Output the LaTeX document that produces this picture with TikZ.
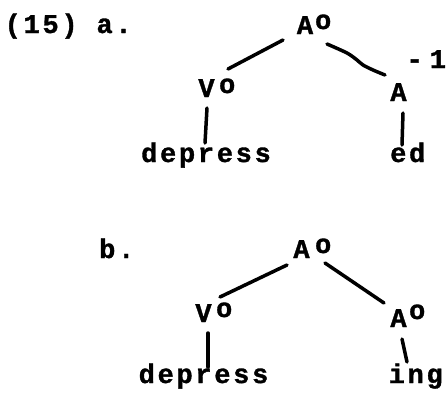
\documentclass[tikz,border=0pt]{standalone}
\usepackage{fontspec}
\usetikzlibrary{calc}
\newfontfamily\twfont{Liberation Mono Bold}[FakeBold=1.2]
\newfontfamily\twspaced{Liberation Mono Bold}[FakeBold=1.2,LetterSpace=10]
\newcommand\supo[2]{\smash{\rlap{\hspace{#1}\raisebox{#2}{o}}}}
\newcommand\supminus[2]{\smash{\rlap{\raisebox{#1}{-\hspace{#2}1}}}}
\tikzset{
  lbl/.style={inner sep=0pt, anchor=base, font=\twfont\fontsize{27}{30}\selectfont},
  word/.style={inner sep=0pt, anchor=base west, font=\twspaced\fontsize{27}{30}\selectfont},
  branch/.style={line width=3.5pt, line cap=round, black}
}
\begin{document}
\begin{tikzpicture}[x=1pt,y=1pt]
\useasboundingbox (0,0) rectangle (447,-392);
% labels
\node[word] (lab15) at (4.5,-33) {(15) a.};
\node[word] (labb) at (99,-258) {b.};
% tree a
\node[lbl] (aA) at (305,-34) {A\supo{2pt}{5pt}};
\node[lbl] (aV) at (206.5,-97) {V\supo{4.5pt}{4pt}};
\node[lbl] (aA2) at (398.5,-101) {A\supminus{33pt}{7pt}};
\node[word] (adep) at (141,-162) {depress};
\node[word] (aed) at (390,-162) {ed};
% tree b
\node[lbl] (bA) at (301.5,-258) {A\supo{5.5pt}{5pt}};
\node[lbl] (bV) at (203.5,-322) {V\supo{4.5pt}{5pt}};
\node[lbl] (bA2) at (398.5,-327) {A\supo{2.5pt}{8pt}};
\node[word] (bdep) at (138.5,-383) {depress};
\node[word] (bing) at (388.5,-383) {ing};
% branches a
\draw[branch] ($(aA.base)+(-22,-6)$) -- ($(aV.base)+(21.5,28)$);
\draw[branch] plot[smooth] coordinates {($(aA.base)+(22,-10)$) ($(aA.base)+(42,-19)$) ($(aA.base)+(52,-26)$) ($(aA.base)+(58,-31)$) ($(aA.base)+(68,-36)$) ($(aA2.base)+(-13.5,26)$)};
\draw[branch] ($(aV.base)+(0.5,-11)$) -- ($(adep.base west)+(64,19)$);
\draw[branch] ($(aA2.base)+(4.5,-12)$) -- ($(aed.base west)+(12,17)$);
% branches b
\draw[branch] ($(bA.base)+(-14.5,-7)$) -- ($(bV.base)+(16.5,25)$);
\draw[branch] ($(bA.base)+(23.5,-5)$) -- ($(bA2.base)+(-14.5,24)$);
\draw[branch] ($(bV.base)+(4.5,-11)$) -- ($(bdep.base west)+(69.5,16)$);
\draw[branch] ($(bA2.base)+(3.5,-12)$) -- ($(bing.base west)+(18.5,21)$);
\end{tikzpicture}
\end{document}
